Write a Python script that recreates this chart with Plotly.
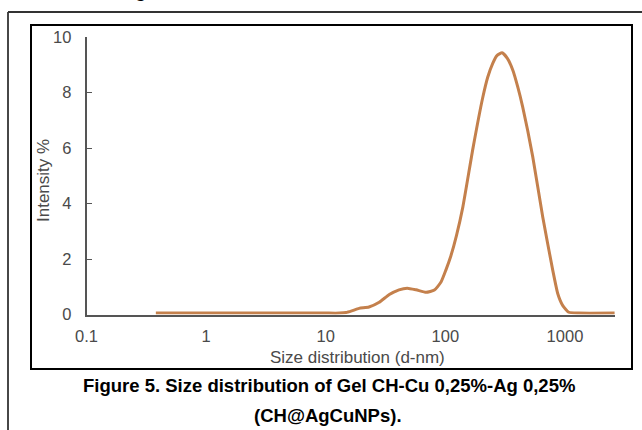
import plotly.graph_objects as go

# Size distribution data (d-nm) and intensity (%)
size_nm = [0.38, 1.0, 3.0, 7.0, 10.0, 13.0, 14.8, 16.5, 19, 23, 28, 34, 41, 48, 57, 69, 81,
           92, 101, 111, 124, 140, 171, 205, 226, 249, 270, 298, 330, 366, 403, 443, 538,
           652, 791, 871, 959, 1076, 1300, 2600]
intensity = [0.05, 0.05, 0.05, 0.05, 0.05, 0.05, 0.07, 0.13, 0.22, 0.27, 0.44, 0.72, 0.89,
             0.95, 0.89, 0.80, 0.88, 1.17, 1.60, 2.10, 2.85, 3.87, 6.04, 7.80, 8.55, 9.05,
             9.33, 9.43, 9.23, 8.81, 8.20, 7.48, 5.68, 3.51, 1.59, 0.75, 0.32, 0.08, 0.05,
             0.05]

x_ticks = [0.1, 1, 10, 100, 1000]
x_tick_labels = ["0.1", "1", "10", "100", "1000"]
y_ticks = [0, 2, 4, 6, 8, 10]

W, H = 642, 430
FONT = "Liberation Sans, Arial, sans-serif"
GRAY = "#4a4a4a"


def px(x):
    return x / W


def py(y):
    return 1 - y / H


fig = go.Figure()
fig.add_trace(go.Scatter(
    x=size_nm, y=intensity, mode="lines",
    line=dict(color="#C4804C", width=3, shape="spline", smoothing=0.5),
    hoverinfo="skip", showlegend=False,
))

fig.update_layout(
    template="none",
    width=W, height=H, autosize=False, showlegend=False,
    margin=dict(l=0, r=0, t=0, b=0, pad=0, autoexpand=False),
    paper_bgcolor="white", plot_bgcolor="white",
    font=dict(family=FONT, color=GRAY, size=16),
    xaxis=dict(
        type="log", range=[-1, 3.42], domain=[px(86.5), px(615.2)], automargin=False,
        tickvals=x_ticks, ticktext=x_tick_labels,
        showgrid=False, zeroline=False, showline=True,
        linecolor="#555555", linewidth=1.5, ticks="",
        ticklabelstandoff=6, tickfont=dict(size=16.5, color=GRAY),
    ),
    yaxis=dict(
        range=[0, 10], domain=[py(314.5), py(37)], automargin=False,
        tickvals=y_ticks, showgrid=False, zeroline=False, showline=True,
        linecolor="#555555", linewidth=1.5, ticks="inside", ticklen=6,
        tickcolor="#555555", tickwidth=1.2,
        ticklabelstandoff=10, tickfont=dict(size=16.5, color=GRAY),
    ),
    shapes=[
        # outer frame (left and top edges)
        dict(type="line", xref="paper", yref="paper", x0=px(8), x1=px(8), y0=py(12), y1=py(440),
             line=dict(color="#333333", width=1.8)),
        dict(type="line", xref="paper", yref="paper", x0=px(8), x1=px(660), y0=py(12), y1=py(12),
             line=dict(color="#333333", width=1.8)),
        # inner frame
        dict(type="rect", xref="paper", yref="paper", x0=px(31), x1=px(632), y0=py(369), y1=py(25),
             line=dict(color="black", width=2)),
    ],
    annotations=[
        # descenders of the previous caption line, cut off at the top edge
        dict(text="<b>CH@AgNPs</b>", xref="paper", yref="paper",
             x=px(74.8), y=py(2.8), showarrow=False, xanchor="left", yanchor="bottom",
             font=dict(size=18.5, color="black")),
        dict(text="Size distribution (d-nm)", xref="paper", yref="paper",
             x=px(357), y=py(357), showarrow=False, xanchor="center", yanchor="middle",
             font=dict(size=17, color=GRAY)),
        dict(text="Intensity %", xref="paper", yref="paper", textangle=-90,
             x=px(43), y=py(180), showarrow=False, xanchor="center", yanchor="middle",
             font=dict(size=17, color=GRAY)),
        dict(text="<b>Figure 5. Size distribution of Gel CH-Cu 0,25%-Ag 0,25%</b>",
             xref="paper", yref="paper", x=px(329), y=py(385), showarrow=False,
             xanchor="center", yanchor="middle", font=dict(size=18.5, color="black")),
        dict(text="<b>(CH@AgCuNPs).</b>",
             xref="paper", yref="paper", x=px(328), y=py(415), showarrow=False,
             xanchor="center", yanchor="middle", font=dict(size=18.5, color="black")),
    ],
)

fig.write_html("out.html")
